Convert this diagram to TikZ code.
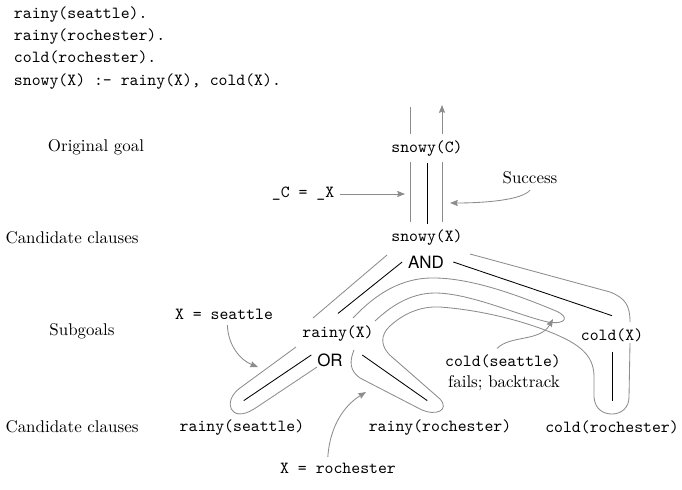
\documentclass[tikz,border=0pt]{standalone}
\usepackage{fontspec}
\newfontfamily\heros{TeX Gyre Heros}
\usepackage{tikz}
\usetikzlibrary{arrows.meta}
\tikzset{
	code/.style={font=\ttfamily},
	note/.style={font=\rmfamily},
	conj/.style={font=\heros},
	edge/.style={draw=black, line width=0.5pt},
	trace/.style={draw=black!45, line width=0.5pt},
	pointer/.style={trace, -{Stealth[length=4.6pt, width=3.6pt, inset=0.6pt]}},
}

\begin{document}
\begin{tikzpicture}[x=0.59pt, y=-0.59pt]
		\useasboundingbox (0, 0) rectangle (682, 489);
		
		\node[code, anchor=base west] (fact1) at (8, 18.5) {rainy(seattle).};
		\node[code, anchor=base west] (fact2) at (8, 40.5) {rainy(rochester).};
		\node[code, anchor=base west] (fact3) at (8, 62.5) {cold(rochester).};
		\node[code, anchor=base west] (rule1) at (8, 85) {snowy(X) :- rainy(X), cold(X).};
		
		\node[note] (lvl1) at (96, 147) {Original goal};
		\node[note] (lvl2) at (72, 238) {Candidate clauses};
		\node[note] (lvl3) at (82, 331) {Subgoals};
		\node[note] (lvl4) at (72, 427) {Candidate clauses};
		
		\node[code] (snowyC) at (427, 149) {snowy(C)};
		\node[code] (snowyX) at (427, 238) {snowy(X)};
		\node[conj] (AND) at (426, 262) {AND};
		\node[code] (rainyX) at (338, 334) {rainy(X)};
		\node[conj] (OR) at (330, 360) {OR};
		\node[code] (coldX) at (612, 335) {cold(X)};
		\node[code] (rainySeattle) at (242, 428) {rainy(seattle)};
		\node[code] (rainyRochester) at (440, 428) {rainy(rochester)};
		\node[code] (coldRochester) at (612, 427) {cold(rochester)};
		
		\node[code] (unify) at (303, 194) {\_C = \_X};
		\node[note] (success) at (530, 178) {Success};
		\node[code] (bindSeattle) at (224, 314) {X = seattle};
		\node[code] (bindRochester) at (338, 468) {X = rochester};
		\node[code] (coldSeattle) at (503, 361) {cold(seattle)};
		\node[note] (fails) at (504, 383) {fails; backtrack};
		
		\coordinate (unifyTip) at (405, 194);
		\coordinate (successTip) at (450, 203);
		\coordinate (seattleTip) at (258, 367);
		\coordinate (rochesterTip) at (366, 392);
		\coordinate (failTip) at (553, 319);
		
		% tree
		\draw[edge] (snowyC) -- (snowyX);
		\draw[edge] (AND.west) -- ([yshift=4pt]rainyX.north);
		\draw[edge] ([xshift=2pt]AND.east) -- ([yshift=4pt]coldX.north);
		\draw[edge] (OR.165) -- ([xshift=1pt, yshift=8pt]rainySeattle.north);
		\draw[edge] ([xshift=8pt]OR.15) -- ([xshift=-7.5pt, yshift=8pt]rainyRochester.north);
		\draw[edge, shorten <=2.4pt, shorten >=8pt] (coldX) -- (coldRochester);
		
		% trace of the search
		\draw[trace] (410, 107) -- (410, 134);
		\draw[trace] (410, 162) -- (410, 222);
		\draw[trace] (442, 162) -- (442, 222);
		\draw[pointer] (442, 134) -- (442, 105);
		\draw[trace] (387, 255) -- (313, 318);
		\draw[trace] (296, 347) -- (240, 388) .. controls (222, 401) and (230, 424) .. (254, 409) -- (317, 367);
		\draw[trace] (353, 318) .. controls (370, 300) and (395, 279) .. (430, 278) .. controls (470, 277) and (520, 296) .. (556, 311) .. controls (570, 317) and (566, 325) .. (548, 322) .. controls (520, 316) and (470, 293) .. (435, 293) .. controls (415, 293) and (395, 302) .. (375, 321);
		\draw[trace] (354, 350) .. controls (349, 362) and (350, 371) .. (360, 378) -- (420, 409) .. controls (436, 417) and (450, 410) .. (440, 399) -- (392, 357) .. controls (380, 347) and (380, 335) .. (390, 326) .. controls (403, 314) and (420, 306) .. (440, 307) .. controls (480, 310) and (520, 320) .. (550, 332) .. controls (580, 344) and (593, 355) .. (594, 375) -- (594, 397) .. controls (595, 410) and (604, 414) .. (612, 414) .. controls (621, 414) and (629, 408) .. (629, 397) -- (630, 343);
		\draw[trace] (630, 322) .. controls (630, 305) and (625, 298) .. (610, 292) -- (470, 254);
		
		% notes
		\draw[pointer] (unify) -- (unifyTip);
		\draw[pointer] (success.south) .. controls (522, 200) and (485, 203) .. (successTip);
		\draw[pointer] ([xshift=2pt]bindSeattle.south) .. controls (228, 345) and (240, 360) .. (seattleTip);
		\draw[pointer] ([xshift=-6pt]bindRochester.north) .. controls (330, 425) and (345, 405) .. (rochesterTip);
		\draw[pointer] ([xshift=-3.5pt]coldSeattle.north) .. controls (510, 335) and (540, 342) .. (failTip);
		
	\end{tikzpicture}
\end{document}
